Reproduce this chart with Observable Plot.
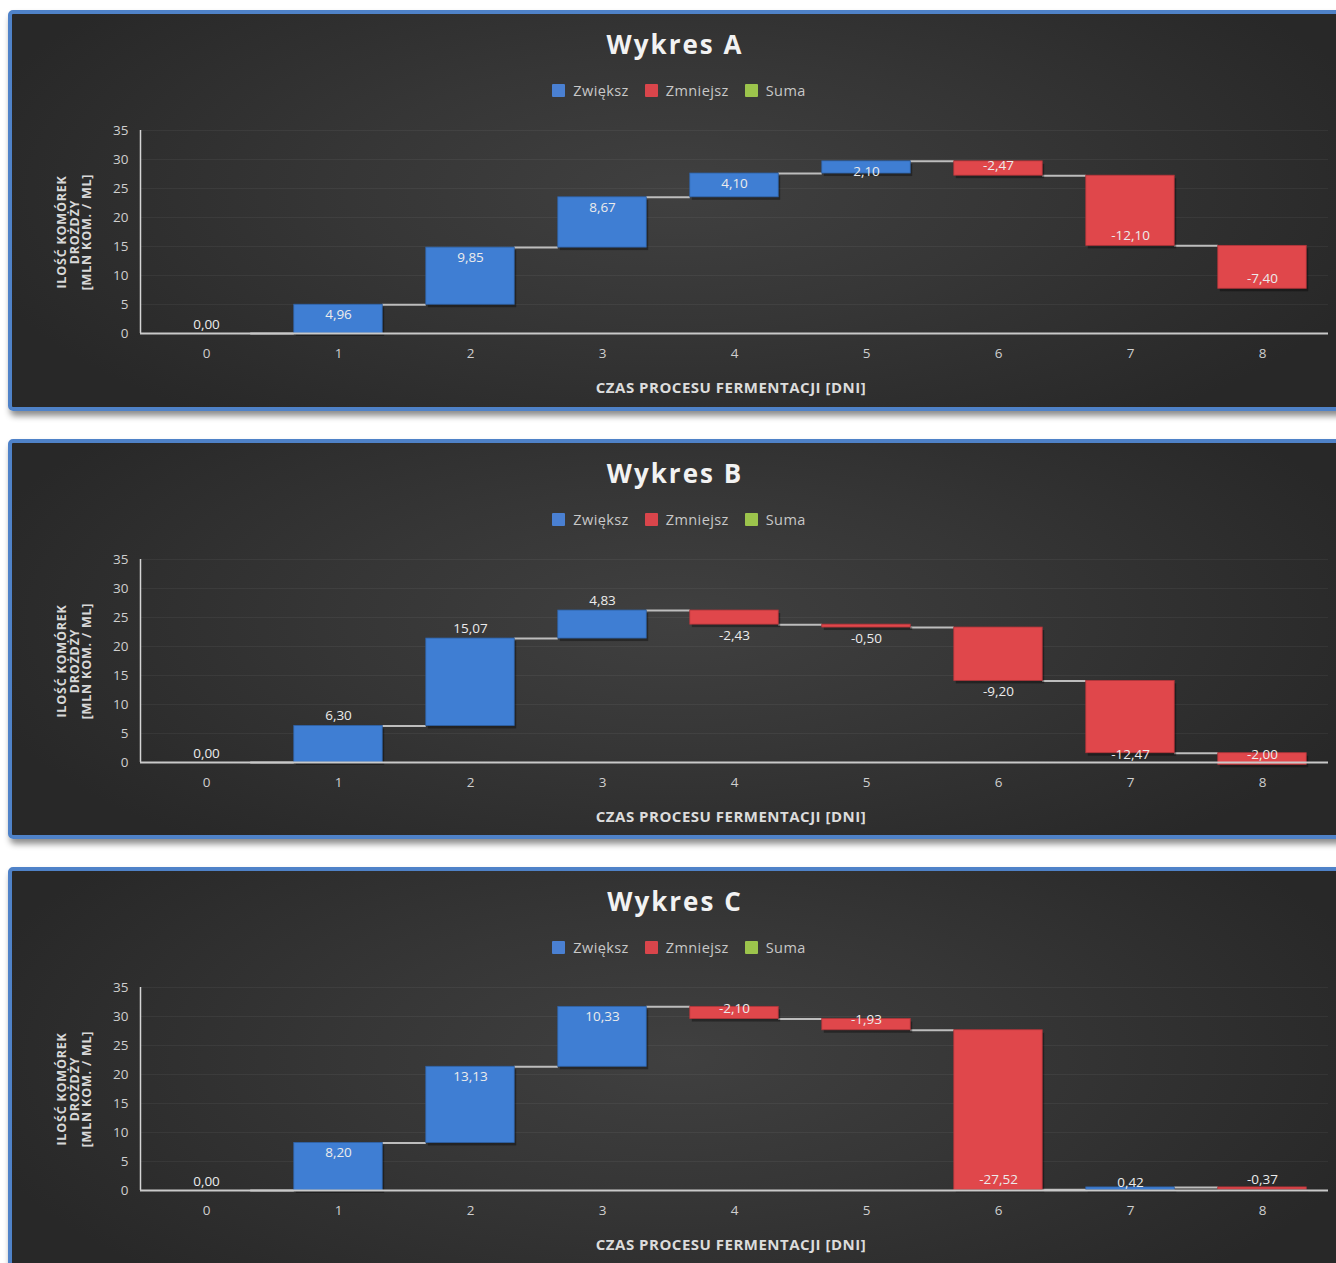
<!DOCTYPE html>
<html>
<head>
<meta charset="utf-8">
<script src="https://cdn.jsdelivr.net/npm/d3@7"></script>
<script src="https://cdn.jsdelivr.net/npm/@observablehq/plot@0.6"></script>
<style>
  body { margin:0; width:1336px; height:1263px; overflow:hidden; background:#ffffff; font-family:"Open Sans", sans-serif; }
  .panel { position:absolute; left:8px; width:1340px; box-sizing:border-box; border:4px solid #4f82c8; border-radius:5px;
           background:radial-gradient(ellipse 55% 75% at 50% 45%, #404040 0%, #363636 45%, #282828 100%);
           box-shadow:2px 5px 6px rgba(0,0,0,.45); overflow:hidden; }
  .title { position:absolute; left:0; width:1326px; top:14px; height:32px; line-height:32px; text-align:center;
           font-weight:700; font-size:26px; letter-spacing:2px; color:#f2f2f2; }
  .legend { position:absolute; left:0; width:1334px; top:68px; height:18px; line-height:18px; text-align:center;
            font-size:14.5px; color:#c8c8c8; letter-spacing:0.4px; }
  .legend span.item { margin:0 8px; }
  .legend span.sw { display:inline-block; width:13px; height:13px; vertical-align:-1px; margin-right:8px; border-radius:1px; }
  .xtitle { position:absolute; left:469px; width:500px; top:364px; height:18px; line-height:18px; text-align:center;
            font-weight:700; font-size:15px; color:#dcdcdc; letter-spacing:0.5px; }
  .ytitle { position:absolute; left:-47px; top:199px; width:220px; height:38px; line-height:12.5px; text-align:center;
            font-weight:700; font-size:12.5px; color:#d8d8d8; transform:rotate(-90deg); letter-spacing:0.8px; }
  .plot { position:absolute; left:0; top:96px; }
</style>
</head>
<body>
<script>
const days = [0, 1, 2, 3, 4, 5, 6, 7, 8];
const changesA = [0.00, 4.96, 9.85, 8.67, 4.10, 2.10, -2.47, -12.10, -7.40];
const changesB = [0.00, 6.30, 15.07, 4.83, -2.43, -0.50, -9.20, -12.47, -2.00];
const changesC = [0.00, 8.20, 13.13, 10.33, -2.10, -1.93, -27.52, 0.42, -0.37];
const titles = ["Wykres A", "Wykres B", "Wykres C"];
const labelModes = ["inside", "outside", "inside"];
const panelTops = [10, 439, 867];
const panelHeights = [401, 400, 420];
const legendLabels = ["Zwiększ", "Zmniejsz", "Suma"];
const legendColors = ["#4a80d2", "#d9454b", "#9cc44c"];
const yTicks = [0, 5, 10, 15, 20, 25, 30, 35];
const xTitle = "CZAS PROCESU FERMENTACJI [DNI]";
const yTitleLines = ["ILOŚĆ KOMÓREK", "DROŻDŻY", "[MLN KOM. / ML]"];

const blue = "#3f7ed3";
const red = "#e0474b";
const half = 0.335;
const fmt = v => v.toFixed(2).replace(".", ",");

function makeChart(values, mode) {
  let cum = 0;
  const rows = days.map((d, i) => {
    const start = cum;
    cum += values[i];
    const v = values[i];
    let ly;
    if (v === 0) ly = cum + 1.45;
    else if (v > 0) ly = mode === "inside" ? cum - 1.75 : cum + 1.75;
    else ly = mode === "inside" ? cum + 1.75 : cum - 1.9;
    ly = Math.max(ly, 1.3);
    return {day: d, value: v, start, end: cum, ly};
  });
  const links = rows.slice(0, -1);
  const inc = rows.filter(r => r.value > 0);
  const dec = rows.filter(r => r.value < 0);
  return Plot.plot({
    width: 1324,
    height: 290,
    marginLeft: 128,
    marginRight: 8,
    marginTop: 20,
    marginBottom: 67,
    style: {background: "transparent", color: "#cfcfcf", fontFamily: "Open Sans", fontSize: "13.5px"},
    x: {domain: [-0.5, 8.5], ticks: days, tickSize: 0, tickPadding: 15, tickFormat: d => String(d), label: null},
    y: {domain: [0, 35], ticks: yTicks, tickSize: 0, tickPadding: 12, tickFormat: d => String(d), label: null},
    marks: [
      Plot.ruleY(yTicks.slice(1), {x1: -0.5, x2: 8.5, stroke: "#ffffff", strokeOpacity: 0.05}),
      Plot.ruleY(links, {x1: d => d.day + half, x2: d => d.day + 1 - half, y: "end", stroke: "#bdbdbd", strokeWidth: 2}),
      Plot.rectY(rows.filter(r => r.value !== 0), {x1: d => d.day - half, x2: d => d.day + half, y1: "start", y2: "end", fill: "#000", fillOpacity: 0.35, dx: 2, dy: 3}),
      Plot.rectY(inc, {x1: d => d.day - half, x2: d => d.day + half, y1: "start", y2: "end", fill: blue, stroke: "#2f63a8", strokeWidth: 0.8}),
      Plot.rectY(dec, {x1: d => d.day - half, x2: d => d.day + half, y1: "start", y2: "end", fill: red, stroke: "#b3353a", strokeWidth: 0.8}),
      Plot.ruleX([-0.5], {y1: 0, y2: 35, stroke: "#d5d5d5", strokeWidth: 1.5}),
      Plot.ruleY([0], {x1: -0.5, x2: 8.5, stroke: "#c9c9c9", strokeWidth: 2}),
      Plot.text(rows, {x: "day", y: "ly", text: d => fmt(d.value), fill: "#ececec", fontSize: 13.5})
    ]
  });
}

const allValues = [changesA, changesB, changesC];
allValues.forEach((vals, k) => {
  const panel = document.createElement("div");
  panel.className = "panel";
  panel.style.top = panelTops[k] + "px";
  panel.style.height = panelHeights[k] + "px";

  const t = document.createElement("div");
  t.className = "title";
  t.textContent = titles[k];
  panel.appendChild(t);

  const lg = document.createElement("div");
  lg.className = "legend";
  legendLabels.forEach((lab, j) => {
    const it = document.createElement("span");
    it.className = "item";
    const sw = document.createElement("span");
    sw.className = "sw";
    sw.style.background = legendColors[j];
    it.appendChild(sw);
    it.appendChild(document.createTextNode(lab));
    lg.appendChild(it);
  });
  panel.appendChild(lg);

  const yt = document.createElement("div");
  yt.className = "ytitle";
  yt.innerHTML = yTitleLines.join("<br>");
  panel.appendChild(yt);

  const xt = document.createElement("div");
  xt.className = "xtitle";
  xt.textContent = xTitle;
  panel.appendChild(xt);

  const wrap = document.createElement("div");
  wrap.className = "plot";
  wrap.appendChild(makeChart(vals, labelModes[k]));
  panel.appendChild(wrap);

  document.body.appendChild(panel);
});
</script>
</body>
</html>
